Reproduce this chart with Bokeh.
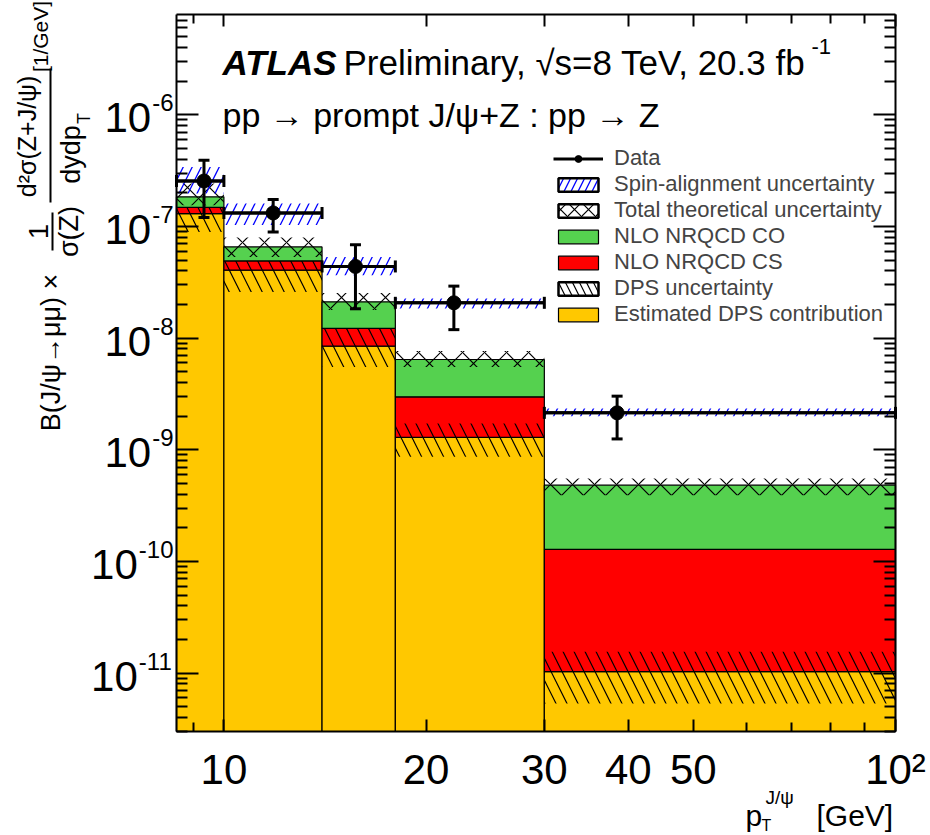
import math
from bokeh.plotting import figure
from bokeh.models import (ColumnDataSource, Range1d, FixedTicker, LogAxis, Whisker, TeeHead,
                          Label, Legend, LegendItem, Arrow, CustomJSTickFormatter)
from bokeh.embed import file_html
from bokeh.resources import INLINE

# ---------------- data ----------------
bin_lo = [8.5, 10, 14, 18, 30]
bin_hi = [10, 14, 18, 30, 100]
dps = [1.30e-7, 4.06e-8, 8.46e-9, 1.29e-9, 1.03e-11]          # estimated DPS contribution
nlo_cs = [1.8e-8, 8.5e-9, 3.74e-9, 1.69e-9, 1.18e-10]          # NLO NRQCD colour singlet
nlo_co = [3.6e-8, 1.64e-8, 8.9e-9, 3.45e-9, 3.54e-10]          # NLO NRQCD colour octet
dps_unc_lo = [8.93e-8, 2.59e-8, 5.52e-9, 8.64e-10, 5.35e-12]
dps_unc_hi = [1.6e-7, 5.5e-8, 1.25e-8, 1.72e-9, 1.55e-11]
theo_lo = [1.55e-7, 5.33e-8, 1.78e-8, 5.52e-9, 3.92e-10]
theo_hi = [2.42e-7, 7.96e-8, 2.54e-8, 7.68e-9, 5.53e-10]
spin_lo = [1.97e-7, 1.03e-7, 3.66e-8, 1.84e-8, 2.0e-9]
spin_hi = [3.41e-7, 1.60e-7, 5.33e-8, 2.26e-8, 2.34e-9]
data_x = [9.34, 11.84, 15.7, 22.0, 38.5]
data_y = [2.55e-7, 1.32e-7, 4.38e-8, 2.07e-8, 2.14e-9]
data_y_hi = [3.92e-7, 1.74e-7, 6.86e-8, 2.92e-8, 3.02e-9]
data_y_lo = [1.2e-7, 8.9e-8, 1.83e-8, 1.19e-8, 1.25e-9]

x_tick_vals = [10, 20, 30, 40, 50, 100]
x_tick_labels = ["10", "20", "30", "40", "50", "10\u00b2"]
x_minor_vals = [9, 60, 70, 80, 90]
y_tick_vals = [1e-11, 1e-10, 1e-9, 1e-8, 1e-7, 1e-6]
y_tick_exps = ["-11", "-10", "-9", "-8", "-7", "-6"]

FONT = "Liberation Sans"
YELLOW = "#FFC800"
RED = "#FF0000"
GREEN = "#55D14F"

# ---------------- geometry ----------------
W, H = 930, 835
FR_L, FR_R, FR_T, FR_B = 176, 895, 14, 731      # visible axes box on the canvas
X0, X1 = 8.5, 100.0
Y0, Y1 = 3.0e-12, 7.9e-6
lg = math.log10
sx = (FR_R - FR_L) / (lg(X1) - lg(X0))
sy = (FR_B - FR_T) / (lg(Y1) - lg(Y0))
x_range = Range1d(10 ** (lg(X0) - FR_L / sx), 10 ** (lg(X1) + (W - FR_R) / sx))
y_range = Range1d(10 ** (lg(Y0) - (H - FR_B) / sy), 10 ** (lg(Y1) + FR_T / sy))

red_top = [d + c for d, c in zip(dps, nlo_cs)]
green_top = [r + o for r, o in zip(red_top, nlo_co)]

src = ColumnDataSource(dict(left=bin_lo, right=bin_hi, floor=[Y0] * len(bin_lo),
                            dps=dps, red_top=red_top, green_top=green_top,
                            dlo=dps_unc_lo, dhi=dps_unc_hi, tlo=theo_lo, thi=theo_hi,
                            slo=spin_lo, shi=spin_hi))
dsrc = ColumnDataSource(dict(x=data_x, y=data_y, yhi=data_y_hi, ylo=data_y_lo,
                             lo=bin_lo, hi=bin_hi))

p = figure(width=W, height=H, x_axis_type="log", y_axis_type="log",
           x_range=x_range, y_range=y_range,
           output_backend="svg", toolbar_location=None,
           min_border=0, min_border_left=0, min_border_right=0, min_border_top=0, min_border_bottom=0)
p.xgrid.visible = False
p.ygrid.visible = False
p.outline_line_color = None
p.background_fill_color = "white"
p.border_fill_color = "white"

# ticks (only inside the visible box)
y_major = [v for v in (10.0 ** k for k in range(-12, -4)) if Y0 <= v <= Y1]
y_minor = [v for v in (m * 10.0 ** k for k in range(-12, -5) for m in range(2, 10)) if Y0 <= v <= Y1]
yt = FixedTicker(ticks=y_major, minor_ticks=y_minor)
xt = FixedTicker(ticks=x_tick_vals, minor_ticks=x_minor_vals)

def style_axis(ax, labels=True):
    ax.axis_line_width = 2
    ax.axis_line_color = "black"
    ax.major_tick_in = 22
    ax.major_tick_out = 0
    ax.minor_tick_in = 11
    ax.minor_tick_out = 0
    ax.major_tick_line_width = 2
    ax.minor_tick_line_width = 2
    if labels:
        ax.major_label_text_font = FONT
        ax.major_label_text_font_size = "42px"
        ax.major_label_text_color = "black"
    else:
        ax.formatter = CustomJSTickFormatter(code="return ''")
        ax.major_label_text_font_size = "2px"
        ax.major_label_standoff = 0

xa = p.xaxis[0]
xa.ticker = xt
xa.major_label_overrides = {v: s for v, s in zip(x_tick_vals, x_tick_labels)}
style_axis(xa)
xa.major_tick_in = 12
xa.minor_tick_in = 9
xa.major_label_standoff = 14
xa.fixed_location = Y0
xa.bounds = (X0, X1)

ya = p.yaxis[0]
ya.ticker = yt
style_axis(ya, labels=False)
ya.fixed_location = X0
ya.bounds = (Y0, Y1)

ax_top = LogAxis(ticker=xt, fixed_location=Y1, bounds=(X0, X1))
style_axis(ax_top, labels=False)
ax_top.major_tick_in = 12
ax_top.minor_tick_in = 9
p.add_layout(ax_top, "above")
ax_right = LogAxis(ticker=yt, fixed_location=X1, bounds=(Y0, Y1))
style_axis(ax_right, labels=False)
p.add_layout(ax_right, "right")

# y tick labels: "10" with a raised exponent, placed through the y scale
EXP_FS = 24
for v, e in zip(y_tick_vals, y_tick_exps):
    w_exp = EXP_FS * (0.333 + 0.556 * (len(e) - 1))
    x_e = FR_L - 4 - w_exp
    p.add_layout(Label(x=x_e, x_units="screen", y=v, y_units="data", y_offset=-3, text="10",
                       text_font=FONT, text_font_size="42px", text_align="right",
                       text_baseline="middle", text_color="black"))
    p.add_layout(Label(x=x_e + 1, x_units="screen", y=v, y_units="data", y_offset=12, text=e,
                       text_font=FONT, text_font_size=f"{EXP_FS}px", text_align="left",
                       text_baseline="middle", text_color="black"))

# stacked histograms
yellow = p.quad(left="left", right="right", bottom="floor", top="dps", source=src,
                fill_color=YELLOW, line_color="black", line_width=1.2)
red = p.quad(left="left", right="right", bottom="dps", top="red_top", source=src,
             fill_color=RED, line_color="black", line_width=1.2)
p.quad(left="left", right="right", bottom="dlo", top="dhi", source=src,
       fill_color=None, line_color=None, hatch_pattern="left_diagonal_line",
       hatch_color="black", hatch_scale=22, hatch_weight=1.2)
green = p.quad(left="left", right="right", bottom="red_top", top="green_top", source=src,
               fill_color=GREEN, line_color="black", line_width=1.2)
p.quad(left="left", right="right", bottom="tlo", top="thi", source=src,
       fill_color=None, line_color=None, hatch_pattern="diagonal_cross",
       hatch_color="black", hatch_scale=22, hatch_weight=1.2)
p.quad(left="left", right="right", bottom="slo", top="shi", source=src,
       fill_color=None, line_color=None, hatch_pattern="right_diagonal_line",
       hatch_color="blue", hatch_scale=18, hatch_weight=1.3)

# legend proxies (hidden renderers carrying the legend styling)
spin_proxy = p.quad(left="left", right="right", bottom="slo", top="shi", source=src,
                    fill_color=None, line_color="black", line_width=2.5,
                    hatch_pattern="right_diagonal_line", hatch_color="blue",
                    hatch_scale=14, hatch_weight=1.3, visible=False)
theo_proxy = p.quad(left="left", right="right", bottom="tlo", top="thi", source=src,
                    fill_color=None, line_color="black", line_width=2.5,
                    hatch_pattern="diagonal_cross", hatch_color="black",
                    hatch_scale=14, hatch_weight=1.2, visible=False)
dps_proxy = p.quad(left="left", right="right", bottom="dlo", top="dhi", source=src,
                   fill_color=None, line_color="black", line_width=2.5,
                   hatch_pattern="left_diagonal_line", hatch_color="black",
                   hatch_scale=14, hatch_weight=1.2, visible=False)

# data
data_seg = p.segment(x0="lo", y0="y", x1="hi", y1="y", source=dsrc, line_color="black", line_width=3)
data_pts = p.scatter(x="x", y="y", source=dsrc, marker="circle", size=14, fill_color="black",
                     line_color="black")
p.add_layout(Whisker(base="x", upper="yhi", lower="ylo", source=dsrc, dimension="height",
                     line_width=3, line_color="black", level="overlay",
                     upper_head=TeeHead(size=11, line_width=3, line_color="black"),
                     lower_head=TeeHead(size=11, line_width=3, line_color="black")))
p.add_layout(Whisker(base="y", upper="hi", lower="lo", source=dsrc, dimension="width",
                     line_width=3, line_color="black", level="overlay",
                     upper_head=TeeHead(size=12, line_width=3, line_color="black"),
                     lower_head=TeeHead(size=12, line_width=3, line_color="black")))

legend = Legend(items=[
    LegendItem(label="Data", renderers=[data_seg, data_pts]),
    LegendItem(label="Spin-alignment uncertainty", renderers=[spin_proxy]),
    LegendItem(label="Total theoretical uncertainty", renderers=[theo_proxy]),
    LegendItem(label="NLO NRQCD CO", renderers=[green]),
    LegendItem(label="NLO NRQCD CS", renderers=[red]),
    LegendItem(label="DPS uncertainty", renderers=[dps_proxy]),
    LegendItem(label="Estimated DPS contribution", renderers=[yellow]),
], location=(553, H - 327), border_line_color=None, background_fill_alpha=0,
    label_text_font=FONT, label_text_font_size="22px", glyph_width=50, glyph_height=17,
    spacing=0, padding=0, margin=0, label_standoff=11, label_height=17)
p.add_layout(legend)

# ---------------- texts ----------------
def lab(text, cx, cy, size, angle=0, align="left", baseline="alphabetic", style="normal"):
    p.add_layout(Label(x=cx, y=H - cy, x_units="screen", y_units="screen", text=text,
                       text_font=FONT, text_font_size=f"{size}px", text_align=align,
                       text_baseline=baseline, angle=angle, text_font_style=style,
                       text_color="black"))

lab("ATLAS", 222, 62, 35, style="bold italic")
lab("Preliminary, \u221as=8 TeV, 20.3 fb", 343, 62, 35)
lab("-1", 811, 46, 22)
lab("pp \u2192 prompt J/\u03c8+Z : pp \u2192 Z", 222, 114, 34)

# x title
lab("p", 745, 815, 30)
lab("J/\u03c8", 765, 797, 19)
lab("T", 761, 825, 16)
lab("[GeV]", 816, 815, 30)

# y title (rotated)
A = math.pi / 2
lab("B(J/\u03c8\u2192\u03bc\u03bc) \u00d7", 50, 352, 27, angle=A, align="center", baseline="middle")
lab("1", 38, 231, 27, angle=A, align="center", baseline="middle")
lab("\u03c3(Z)", 68, 231, 27, angle=A, align="center", baseline="middle")
lab("d\u00b2\u03c3(Z+J/\u03c8)", 26, 136, 25, angle=A, align="center", baseline="middle")
lab("dydp", 70, 154, 27, angle=A, align="center", baseline="middle")
lab("T", 83, 118, 18, angle=A, align="center", baseline="middle")
lab("[1/GeV]", 40, 36, 21, angle=A, align="center", baseline="middle")

def vbar(cx, cy0, cy1):
    p.add_layout(Arrow(x_start=cx, y_start=H - cy0, x_end=cx, y_end=H - cy1,
                       start_units="screen", end_units="screen", end=None, start=None,
                       line_width=2, line_color="black"))

vbar(52, 212, 250)
vbar(50, 68, 202)

open("out.html", "w").write(file_html(p, INLINE))
